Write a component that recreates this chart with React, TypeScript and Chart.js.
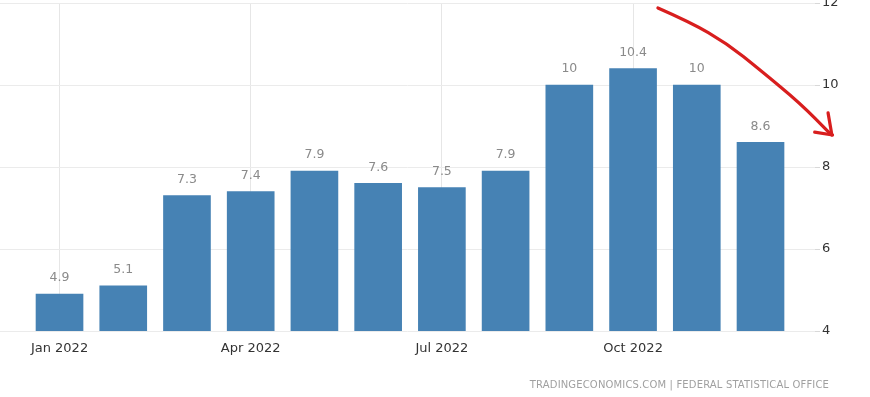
import React, { useEffect, useRef } from "react";
import { Chart, registerables } from "chart.js";

Chart.register(...registerables);

// ---- data ----
const months: string[] = ["Jan 2022", "Feb 2022", "Mar 2022", "Apr 2022", "May 2022", "Jun 2022", "Jul 2022", "Aug 2022", "Sep 2022", "Oct 2022", "Nov 2022", "Dec 2022"];
const values: number[] = [4.9, 5.1, 7.3, 7.4, 7.9, 7.6, 7.5, 7.9, 10, 10.4, 10, 8.6];
const valueLabels: string[] = ["4.9", "5.1", "7.3", "7.4", "7.9", "7.6", "7.5", "7.9", "10", "10.4", "10", "8.6"];
const xTickIndices: number[] = [0, 3, 6, 9];
const yTicks: number[] = [4, 6, 8, 10, 12];
const sourceText = "TRADINGECONOMICS.COM | FEDERAL STATISTICAL OFFICE";
// hand-drawn annotation arrow, in (month index, value) coordinates
const arrowPath: [number, number][] = [[9.39, 11.88], [9.89, 11.54], [10.47, 11.02], [10.99, 10.37], [11.62, 9.56], [12.1, 8.8]];
const arrowHeadA: [number, number][] = [[12.06, 9.32], [12.12, 8.78]];
const arrowHeadB: [number, number][] = [[11.85, 8.85], [12.13, 8.78]];

const FONT = "'DejaVu Sans', sans-serif";

export default function App() {
  const ref = useRef<HTMLCanvasElement | null>(null);

  useEffect(() => {
    if (!ref.current) return;

    const labelsPlugin = {
      id: "valueLabels",
      afterDatasetsDraw(chart: any) {
        const ctx = chart.ctx;
        const meta = chart.getDatasetMeta(0);
        ctx.save();
        ctx.font = `12.5px ${FONT}`;
        ctx.fillStyle = "#8a8a8a";
        ctx.textAlign = "center";
        ctx.textBaseline = "middle";
        meta.data.forEach((bar: any, i: number) => {
          ctx.fillText(valueLabels[i], bar.x, bar.y - 16);
        });
        ctx.restore();
      },
    };

    const footerPlugin = {
      id: "footerText",
      afterDraw(chart: any) {
        const ctx = chart.ctx;
        ctx.save();
        ctx.font = `10px ${FONT}`;
        ctx.fillStyle = "#a0a0a0";
        ctx.textAlign = "right";
        ctx.textBaseline = "middle";
        try { (ctx as any).letterSpacing = "0.15px"; } catch (e) {}
        ctx.fillText(sourceText, 829, 385);
        ctx.restore();
      },
    };

    const arrowPlugin = {
      id: "arrow",
      afterDraw(chart: any) {
        const ctx = chart.ctx;
        const xs = chart.scales.x;
        const ys = chart.scales.y;
        const pt = (p: [number, number]) => [xs.getPixelForValue(p[0]), ys.getPixelForValue(p[1])];
        ctx.save();
        ctx.strokeStyle = "#d81e1e";
        ctx.lineWidth = 3.2;
        ctx.lineCap = "round";
        ctx.lineJoin = "round";
        ctx.beginPath();
        const pts = arrowPath.map(pt);
        ctx.moveTo(pts[0][0], pts[0][1]);
        for (let i = 1; i < pts.length - 1; i++) {
          const mx = (pts[i][0] + pts[i + 1][0]) / 2;
          const my = (pts[i][1] + pts[i + 1][1]) / 2;
          ctx.quadraticCurveTo(pts[i][0], pts[i][1], mx, my);
        }
        ctx.lineTo(pts[pts.length - 1][0], pts[pts.length - 1][1]);
        ctx.stroke();
        [arrowHeadA, arrowHeadB].forEach((seg) => {
          const a = pt(seg[0]);
          const b = pt(seg[1]);
          ctx.beginPath();
          ctx.moveTo(a[0], a[1]);
          ctx.lineTo(b[0], b[1]);
          ctx.stroke();
        });
        ctx.restore();
      },
    };

    const chart = new Chart(ref.current, {
      type: "bar",
      data: {
        datasets: [
          {
            data: values.map((v, i) => ({ x: i, y: v })),
            backgroundColor: "#4682b4",
            borderWidth: 0,
            barThickness: 47,
          },
        ],
      },
      options: {
        animation: false,
        responsive: false,
        devicePixelRatio: 1,
        layout: { padding: { top: 3, left: 0, right: 0, bottom: 0 } },
        plugins: {
          legend: { display: false },
          tooltip: { enabled: false },
        },
        scales: {
          x: {
            type: "linear",
            min: -0.934,
            max: 11.855,
            offset: false,
            afterBuildTicks: (s: any) => {
              s.ticks = xTickIndices.map((v) => ({ value: v }));
            },
            afterFit: (s: any) => {
              s.height = 66;
              s.paddingLeft = 0;
              s.paddingRight = 0;
            },
            grid: { color: "#e6e6e6", drawTicks: false, lineWidth: 1, offset: false },
            border: { display: false },
            ticks: {
              autoSkip: false,
              maxRotation: 0,
              padding: 10,
              color: "#333333",
              font: { family: FONT, size: 13 },
              callback: (v: any) => months[Number(v)] ?? "",
            },
          },
          y: {
            position: "right",
            min: 4,
            max: 12,
            afterBuildTicks: (s: any) => {
              s.ticks = yTicks.map((v) => ({ value: v }));
            },
            afterFit: (s: any) => {
              s.width = 55;
              s.paddingTop = 0;
              s.paddingBottom = 0;
            },
            grid: { color: "#ebebeb", tickLength: 5, tickColor: "#d8d8d8", lineWidth: 1 },
            border: { display: false },
            ticks: {
              padding: 2,
              color: "#333333",
              font: { family: FONT, size: 13 },
            },
          },
        },
      },
      plugins: [labelsPlugin, footerPlugin, arrowPlugin],
    } as any);

    return () => chart.destroy();
  }, []);

  return (
    <div style={{ position: "absolute", left: 0, top: 0, width: 870, height: 397, background: "#ffffff" }}>
      <canvas ref={ref} width={870} height={397} style={{ display: "block", width: 870, height: 397 }} />
    </div>
  );
}
